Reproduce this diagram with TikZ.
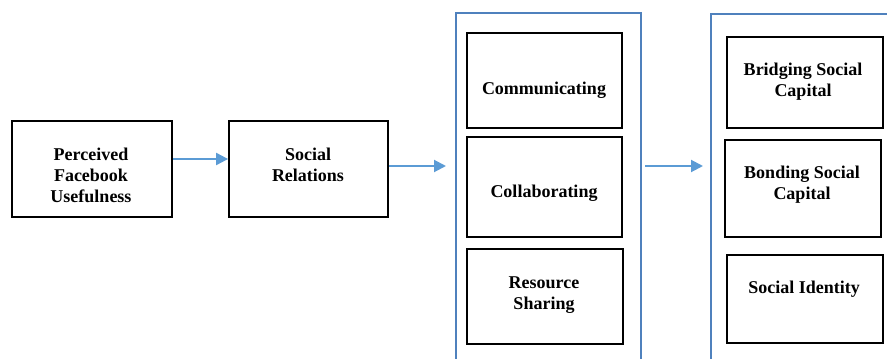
\documentclass[tikz,border=0pt]{standalone}
\usepackage{fontspec}
\setmainfont{Liberation Serif}
\usetikzlibrary{arrows.meta}
\definecolor{framecol}{RGB}{79,129,189}
\definecolor{arrowcol}{RGB}{91,155,213}
\tikzset{
  box/.style={draw=black, line width=1.8pt, rectangle, inner sep=0pt},
  frame/.style={draw=framecol, line width=1.9pt, rectangle, inner sep=0pt},
  txt/.style={align=center, inner sep=0pt, font=\fontsize{18}{21}\selectfont\bfseries},
  arr/.style={draw=arrowcol, line width=2pt, -{Triangle[length=12pt,width=12pt]}}
}
\begin{document}
\begin{tikzpicture}[x=1pt,y=-1pt]
  \useasboundingbox (0,0) rectangle (887,359);
  \clip (0,0) rectangle (887,359);
  \fill[white] (0,0) rectangle (887,359);

  % outer group frames (open at the bottom of the page)
  \node[frame, minimum width=185pt, minimum height=387pt] (grpa) at (548.5,206.5) {};
  \node[frame, minimum width=190pt, minimum height=387pt] (grpb) at (806,207.5) {};

  % left chain
  \node[box, minimum width=160pt, minimum height=96pt] (pfu) at (92,169) {};
  \node[txt] (pfut) at (91,175) {Perceived\\Facebook\\Usefulness};
  \node[box, minimum width=159pt, minimum height=96pt] (srel) at (308.5,169) {};
  \node[txt] (srelt) at (308,165) {Social\\Relations};

  % first group
  \node[box, minimum width=155pt, minimum height=95pt] (comm) at (544.5,80.5) {};
  \node[txt] (commt) at (544,90) {Communicating};
  \node[box, minimum width=155pt, minimum height=100pt] (coll) at (544.5,187) {};
  \node[txt] (collt) at (544,193) {Collaborating};
  \node[box, minimum width=156pt, minimum height=95pt] (res) at (545,296.5) {};
  \node[txt] (rest) at (544,295.5) {Resource\\Sharing};

  % second group
  \node[box, minimum width=156pt, minimum height=91pt] (brid) at (805,82.5) {};
  \node[txt] (bridt) at (803,82) {Bridging Social\\Capital};
  \node[box, minimum width=156pt, minimum height=97pt] (bond) at (803,188.5) {};
  \node[txt] (bondt) at (802,185) {Bonding Social\\Capital};
  \node[box, minimum width=156pt, minimum height=88pt] (sid) at (805,299) {};
  \node[txt] (sidt) at (804,289) {Social Identity};

  % connectors
  \draw[arr] (pfu.east |- 0,159) -- (srel.west |- 0,159);
  \coordinate (toA) at (446,166);
  \draw[arr] (srel.east |- toA) -- (toA);
  \coordinate (fromA) at (645,166);
  \coordinate (toB) at (703,166);
  \draw[arr] (fromA) -- (toB);
\end{tikzpicture}
\end{document}
